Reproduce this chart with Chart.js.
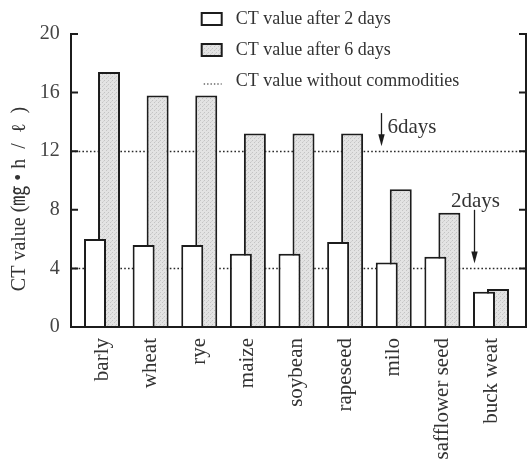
<!DOCTYPE html>
<html>
<head>
<meta charset="utf-8">
<script src="https://cdn.jsdelivr.net/npm/chart.js@4/dist/chart.umd.min.js"></script>
<style>
  html, body { margin: 0; padding: 0; background: #fff; }
  #wrap { width: 531px; height: 465px; }
</style>
</head>
<body>
<div id="wrap"><canvas id="c" width="531" height="465"></canvas></div>
<script>
// ---- data ----
const commodities = ['barly', 'wheat', 'rye', 'maize', 'soybean', 'rapeseed', 'milo', 'safflower seed', 'buck weat'];
const ctAfter2Days = [6.0, 5.6, 5.6, 5.0, 5.0, 5.8, 4.4, 4.8, 2.4];
const ctAfter6Days = [17.4, 15.8, 15.8, 13.2, 13.2, 13.2, 9.4, 7.8, 2.6];
const ctBlank = [12, 4];                 // CT value without commodities: 6 days, 2 days
const blankLabels = ['6days', '2days'];
const seriesNames = ['CT value after 2 days', 'CT value after 6 days', 'CT value without commodities'];
const yTickValues = [0, 4, 8, 12, 16, 20];
const yTitle = 'CT value (㎎ • h  /  ℓ  )';

// ---- styling ----
const SERIF = "'Liberation Serif', 'Times New Roman', 'Noto Sans CJK JP', serif";
const INK = '#1c1c1c';
const TEXT = '#333';

// stippled light grey fill for the 6-day bars
function stipple() {
  const p = document.createElement('canvas');
  p.width = 4; p.height = 4;
  const g = p.getContext('2d');
  g.fillStyle = '#e3e3e3';
  g.fillRect(0, 0, 4, 4);
  g.fillStyle = '#c4c4c4';
  g.fillRect(0, 0, 1, 1);
  g.fillRect(2, 2, 1, 1);
  g.fillStyle = '#d2d2d2';
  g.fillRect(3, 1, 1, 1);
  return g.createPattern(p, 'repeat');
}
const greyFill = stipple();

// where the arrows for the blank CT values sit (x in category units, y in CT units)
const arrowSpecs = [
  { x: 5.74, from: 14.6, textSide: 'right' },
  { x: 7.65, from: 8.0, textSide: 'above' }
];

// outer frame sits a little outside the category band
const FRAME_LEFT_GAP = 6.7;
const FRAME_RIGHT_GAP = 10.7;
const TICK_LEN = 6;

function frameBounds(chart) {
  const a = chart.chartArea;
  return { left: a.left - FRAME_LEFT_GAP, right: a.right + FRAME_RIGHT_GAP, top: a.top, bottom: a.bottom };
}

// dotted lines for the blank CT values, behind the bars
const blankLinesPlugin = {
  id: 'blankLines',
  beforeDatasetsDraw(chart) {
    const ctx = chart.ctx, y = chart.scales.y, f = frameBounds(chart);
    ctx.save();
    ctx.strokeStyle = '#2a2a2a';
    ctx.lineWidth = 1.6;
    ctx.setLineDash([1.6, 2.2]);
    for (const v of ctBlank) {
      const py = Math.round(y.getPixelForValue(v)) + 0.5;
      ctx.beginPath();
      ctx.moveTo(f.left, py);
      ctx.lineTo(f.right, py);
      ctx.stroke();
    }
    ctx.restore();
  }
};

// open frame with inward ticks on both sides
const framePlugin = {
  id: 'frame',
  afterDatasetsDraw(chart) {
    const ctx = chart.ctx, y = chart.scales.y, f = frameBounds(chart);
    ctx.save();
    ctx.strokeStyle = INK;
    ctx.lineWidth = 2;
    ctx.lineCap = 'square';
    ctx.beginPath();
    ctx.moveTo(f.left, f.top);
    ctx.lineTo(f.left, f.bottom);
    ctx.lineTo(f.right, f.bottom);
    ctx.lineTo(f.right, f.top);
    for (const v of yTickValues) {
      if (v === 0) continue;
      const py = y.getPixelForValue(v);
      ctx.moveTo(f.left, py); ctx.lineTo(f.left + TICK_LEN, py);
      ctx.moveTo(f.right, py); ctx.lineTo(f.right - TICK_LEN, py);
    }
    ctx.stroke();
    ctx.restore();
  }
};

// arrows and captions pointing at the blank CT lines
const arrowPlugin = {
  id: 'arrows',
  afterDraw(chart) {
    const ctx = chart.ctx, xs = chart.scales.x, ys = chart.scales.y;
    ctx.save();
    ctx.strokeStyle = INK;
    ctx.fillStyle = INK;
    ctx.lineWidth = 1.3;
    ctx.font = '21px ' + SERIF;
    arrowSpecs.forEach((s, i) => {
      const px = Math.round(xs.getPixelForValue(s.x)) + 0.5;
      const top = ys.getPixelForValue(s.from);
      const tip = ys.getPixelForValue(ctBlank[i]) - 5;
      ctx.beginPath();
      ctx.moveTo(px, top);
      ctx.lineTo(px, tip - 10);
      ctx.stroke();
      ctx.beginPath();
      ctx.moveTo(px - 3.2, tip - 12);
      ctx.lineTo(px + 3.2, tip - 12);
      ctx.lineTo(px, tip);
      ctx.closePath();
      ctx.fill();
      ctx.fillStyle = TEXT;
      if (s.textSide === 'right') {
        ctx.textAlign = 'left';
        ctx.textBaseline = 'middle';
        ctx.fillText(blankLabels[i], px + 6, top + 14);
      } else {
        ctx.textAlign = 'center';
        ctx.textBaseline = 'bottom';
        ctx.fillText(blankLabels[i], px + 1, top + 2);
      }
      ctx.fillStyle = INK;
    });
    ctx.restore();
  }
};

// legend block at the top
const legendPlugin = {
  id: 'legendBlock',
  afterDraw(chart) {
    const ctx = chart.ctx, a = chart.chartArea;
    const x0 = a.left + 124;
    const rows = [19, 50, 81];
    ctx.save();
    ctx.font = '18px ' + SERIF;
    ctx.textBaseline = 'middle';
    ctx.textAlign = 'left';
    rows.forEach((ry, i) => {
      ctx.strokeStyle = INK;
      if (i < 2) {
        ctx.fillStyle = i === 0 ? '#ffffff' : greyFill;
        ctx.lineWidth = 2;
        ctx.fillRect(x0, ry - 6, 20, 12);
        ctx.strokeRect(x0, ry - 6, 20, 12);
      } else {
        ctx.lineWidth = 1.2;
        ctx.setLineDash([1.4, 2]);
        ctx.beginPath();
        ctx.moveTo(x0 + 2, ry + 3);
        ctx.lineTo(x0 + 20, ry + 3);
        ctx.stroke();
        ctx.setLineDash([]);
      }
      ctx.fillStyle = TEXT;
      ctx.fillText(seriesNames[i], x0 + 34, ry);
    });
    ctx.restore();
  }
};

// rotated y-axis title
const yTitlePlugin = {
  id: 'yTitle',
  afterDraw(chart) {
    const ctx = chart.ctx, a = chart.chartArea;
    ctx.save();
    ctx.translate(20, a.bottom - 128);
    ctx.rotate(-Math.PI / 2);
    ctx.font = '20px ' + SERIF;
    ctx.fillStyle = TEXT;
    ctx.textAlign = 'center';
    ctx.textBaseline = 'middle';
    ctx.fillText(yTitle, 0, 0);
    ctx.restore();
  }
};

new Chart(document.getElementById('c'), {
  type: 'bar',
  data: {
    labels: commodities,
    datasets: [
      {
        label: seriesNames[0],
        data: ctAfter2Days,
        backgroundColor: '#ffffff',
        borderColor: INK,
        borderWidth: 2
      },
      {
        label: seriesNames[1],
        data: ctAfter6Days,
        backgroundColor: greyFill,
        borderColor: INK,
        borderWidth: 2
      }
    ]
  },
  options: {
    responsive: false,
    animation: false,
    devicePixelRatio: 1,
    categoryPercentage: 0.576,
    barPercentage: 1.57,
    layout: { padding: { top: 34, right: 15.7, left: 0, bottom: 0 } },
    plugins: {
      legend: { display: false },
      tooltip: { enabled: false }
    },
    scales: {
      x: {
        type: 'category',
        offset: true,
        grid: { display: false, drawTicks: false },
        border: { display: false },
        ticks: {
          autoSkip: false,
          minRotation: 90,
          maxRotation: 90,
          padding: 11,
          color: TEXT,
          font: { family: SERIF, size: 21 }
        },
        afterFit(s) { s.height = 138; }
      },
      y: {
        min: 0,
        max: 20,
        grid: { display: false, drawTicks: false },
        border: { display: false },
        ticks: {
          stepSize: 4,
          padding: 18,
          color: '#444',
          font: { family: SERIF, size: 20 }
        },
        afterFit(s) { s.width = 77.7; }
      }
    }
  },
  plugins: [blankLinesPlugin, framePlugin, arrowPlugin, legendPlugin, yTitlePlugin]
});
</script>
</body>
</html>
